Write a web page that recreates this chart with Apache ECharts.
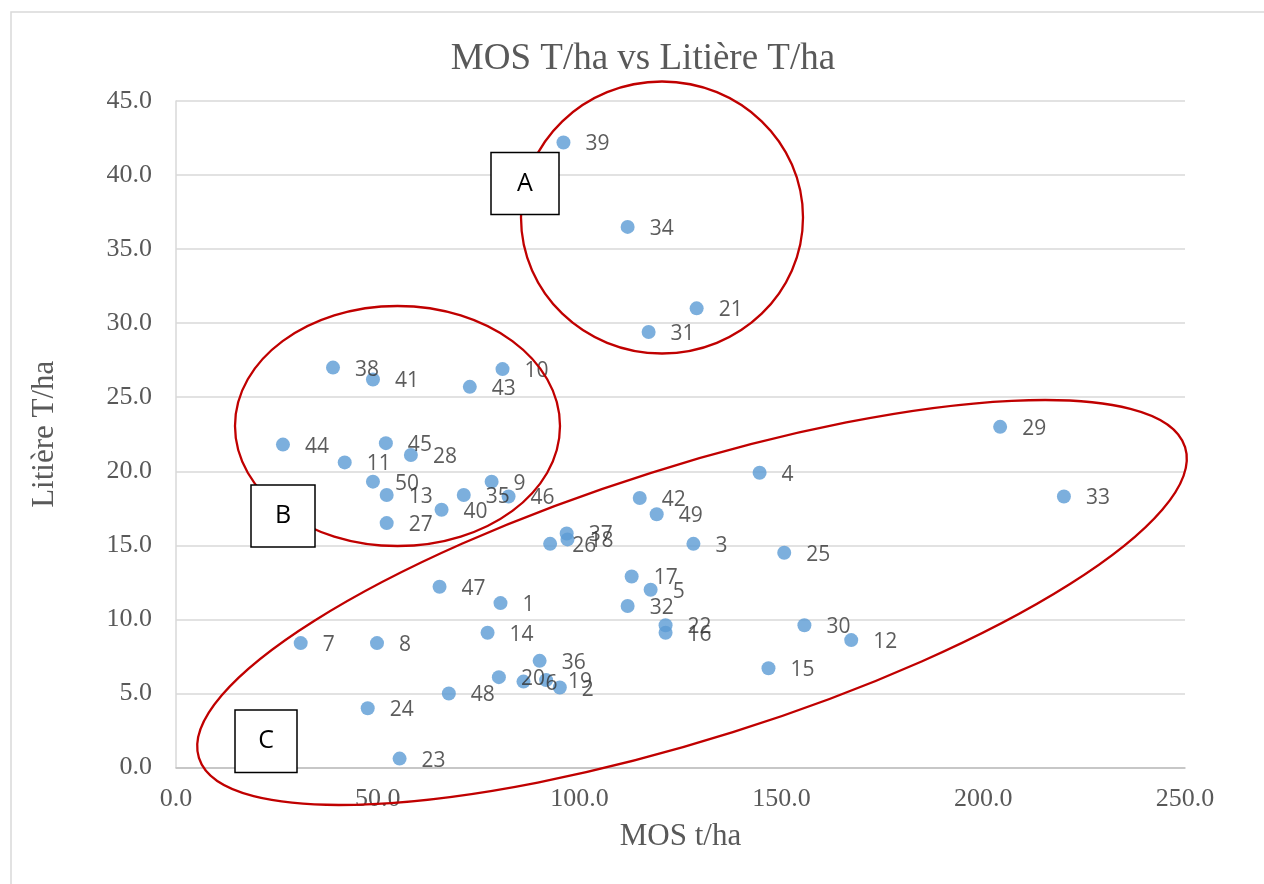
<!DOCTYPE html>
<html>
<head>
<meta charset="utf-8">
<script src="https://cdn.jsdelivr.net/npm/echarts@6/dist/echarts.min.js"></script>
<style>
html,body{margin:0;padding:0;background:#fff;}
#chart{width:1264px;height:884px;}
</style>
</head>
<body>
<div id="chart"></div>
<script>
// Sample numbers
const ids = [1,2,3,4,5,6,7,8,9,10,11,12,13,14,15,16,17,18,19,20,21,22,23,24,25,26,27,28,29,30,31,32,33,34,35,36,37,38,39,40,41,42,43,44,45,46,47,48,49,50];
// MOS t/ha (x)
const mos = [80.4,95.1,128.2,144.6,117.6,86.1,30.9,49.8,78.2,80.9,41.8,167.3,52.2,77.2,146.8,121.3,112.9,97.0,91.7,80.0,129.0,121.3,55.4,47.5,150.7,92.7,52.2,58.2,204.2,155.7,117.1,111.9,220.0,111.9,71.3,90.1,96.8,38.9,96.0,65.8,48.8,114.9,72.8,26.5,52.0,82.4,65.3,67.6,119.1,48.8];
// Litière T/ha (y)
const litiere = [11.1,5.4,15.1,19.9,12.0,5.8,8.4,8.4,19.3,26.9,20.6,8.6,18.4,9.1,6.7,9.1,12.9,15.4,5.9,6.1,31.0,9.6,0.6,4.0,14.5,15.1,16.5,21.1,23.0,9.6,29.4,10.9,18.3,36.5,18.4,7.2,15.8,27.0,42.2,17.4,26.2,18.2,25.7,21.8,21.9,18.3,12.2,5.0,17.1,19.3];
const xTicks = [0,50,100,150,200,250];
const yTicks = [0,5,10,15,20,25,30,35,40,45];
const groupLetters = ['A','B','C'];

const points = ids.map((id, i) => [mos[i], litiere[i], id]);

const chart = echarts.init(document.getElementById('chart'), null, {renderer: 'canvas'});
const serif = '"Liberation Serif", "Times New Roman", serif';
const sans = '"Open Sans", "Noto Sans", sans-serif';
const ellStyle = {stroke: '#C00000', lineWidth: 2.3, fill: 'none'};
const boxStyle = {stroke: '#000', lineWidth: 1.5, fill: '#fff'};

chart.setOption({
  animation: false,
  backgroundColor: '#fff',
  title: {
    text: 'MOS T/ha vs Litière T/ha',
    left: 638, top: 36, textAlign: 'center',
    textStyle: {fontFamily: serif, fontSize: 37, fontWeight: 'normal', color: '#595959'}
  },
  grid: {left: 176, right: 79, top: 101, bottom: 116.5, containLabel: false},
  xAxis: {
    type: 'value', min: xTicks[0], max: xTicks[xTicks.length-1], interval: 50,
    name: 'MOS t/ha', nameLocation: 'middle', nameGap: 54,
    nameTextStyle: {fontFamily: serif, fontSize: 31, color: '#595959'},
    axisLine: {show: true, lineStyle: {color: '#bfbfbf', width: 1.5}},
    axisTick: {show: false},
    splitLine: {show: false},
    axisLabel: {fontFamily: serif, fontSize: 26, color: '#595959', margin: 19,
      formatter: v => v.toFixed(1)}
  },
  yAxis: {
    type: 'value', min: yTicks[0], max: yTicks[yTicks.length-1], interval: 5,
    name: 'Litière T/ha', nameLocation: 'middle', nameGap: 116,
    nameTextStyle: {fontFamily: serif, fontSize: 31, color: '#595959'},
    axisLine: {show: true, lineStyle: {color: '#d9d9d9', width: 1.5}},
    axisTick: {show: false},
    splitLine: {show: true, lineStyle: {color: '#d9d9d9', width: 1.5}},
    axisLabel: {fontFamily: serif, fontSize: 26, color: '#595959', margin: 24,
      formatter: v => v.toFixed(1)}
  },
  series: [{
    type: 'scatter',
    data: points,
    symbol: 'circle',
    symbolSize: 14,
    itemStyle: {color: '#5B9BD5'},
    label: {
      show: true, position: 'right', distance: 15, offset: [0, 2],
      formatter: p => String(p.value[2]),
      fontFamily: sans, fontSize: 21, color: '#333333'
    },
    z: 2
  }],
  graphic: [
    {type: 'rect', shape: {x: 11, y: 12, width: 1400, height: 1000}, style: {stroke: '#d9d9d9', lineWidth: 1.5, fill: 'none'}, z: -1, silent: true},
    {type: 'ellipse', x: 662, y: 217.5, shape: {cx: 0, cy: 0, rx: 141, ry: 136}, style: ellStyle, z: 50},
    {type: 'ellipse', x: 397.5, y: 426, shape: {cx: 0, cy: 0, rx: 162.5, ry: 120}, style: ellStyle, z: 50},
    {type: 'ellipse', x: 692, y: 602.5, rotation: 17.5 * Math.PI / 180, shape: {cx: 0, cy: 0, rx: 517, ry: 136}, style: ellStyle, z: 50},
    {type: 'rect', shape: {x: 491, y: 152.5, width: 68, height: 62}, style: boxStyle, z: 60},
    {type: 'text', x: 525, y: 184, style: {text: groupLetters[0], font: '25px ' + sans, fill: '#000', textAlign: 'center', textVerticalAlign: 'middle'}, z: 61},
    {type: 'rect', shape: {x: 251, y: 485, width: 64, height: 62}, style: boxStyle, z: 60},
    {type: 'text', x: 283, y: 516, style: {text: groupLetters[1], font: '25px ' + sans, fill: '#000', textAlign: 'center', textVerticalAlign: 'middle'}, z: 61},
    {type: 'rect', shape: {x: 235, y: 710, width: 62, height: 62.5}, style: boxStyle, z: 60},
    {type: 'text', x: 266, y: 741, style: {text: groupLetters[2], font: '25px ' + sans, fill: '#000', textAlign: 'center', textVerticalAlign: 'middle'}, z: 61}
  ]
});
</script>
</body>
</html>
